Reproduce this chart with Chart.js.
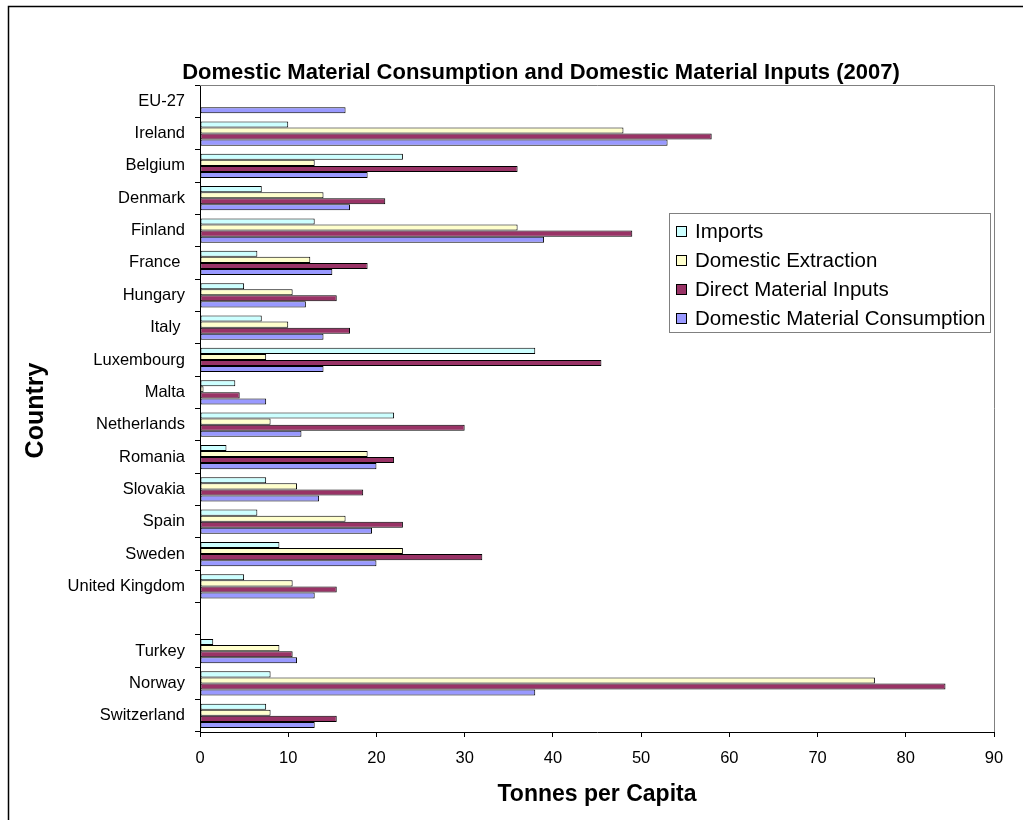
<!DOCTYPE html>
<html>
<head>
<meta charset="utf-8">
<title>Domestic Material Consumption and Domestic Material Inputs (2007)</title>
<script src="https://cdn.jsdelivr.net/npm/chart.js@4.4.1/dist/chart.umd.min.js"></script>
<style>
  html, body { margin: 0; padding: 0; background: #ffffff; }
  #wrap { width: 1023px; height: 820px; }
</style>
</head>
<body>
<div id="wrap"><canvas id="chart" width="1023" height="820"></canvas></div>
<script>
// Countries (the empty entry separates EU members from the non-EU group)
const countries = ['EU-27', 'Ireland', 'Belgium', 'Denmark', 'Finland', 'France ', 'Hungary', 'Italy ',
  'Luxembourg', 'Malta', 'Netherlands', 'Romania', 'Slovakia', 'Spain', 'Sweden', 'United Kingdom',
  '', 'Turkey', 'Norway', 'Switzerland'];

// Tonnes per capita, 2007
const imports            = [null, 10, 23, 7, 13, 6.5, 5, 7, 38, 4, 22, 3, 7.5, 6.5, 9, 5, null, 1.5, 8, 7.5];
const domesticExtraction = [null, 48, 13, 14, 36, 12.5, 10.5, 10, 7.5, 0.4, 8, 19, 11, 16.5, 23, 10.5, null, 9, 76.5, 8];
const directInputs       = [null, 58, 36, 21, 49, 19, 15.5, 17, 45.5, 4.5, 30, 22, 18.5, 23, 32, 15.5, null, 10.5, 84.5, 15.5];
const domesticConsumption= [16.5, 53, 19, 17, 39, 15, 12, 14, 14, 7.5, 11.5, 20, 13.5, 19.5, 20, 13, null, 11, 38, 13];

const seriesNames = ['Imports', 'Domestic Extraction', 'Direct Material Inputs', 'Domestic Material Consumption'];
const xTicks = [0, 10, 20, 30, 40, 50, 60, 70, 80, 90];

const FONT = "'Liberation Sans', Arial, Helvetica, sans-serif";
const colours = ['#ccffff', '#ffffcc', '#993366', '#9999ff'];

const seriesData = [imports, domesticExtraction, directInputs, domesticConsumption];
const datasets = seriesData.map((d, i) => ({
  label: seriesNames[i],
  data: d,
  backgroundColor: colours[i],
  borderColor: '#000000',
  borderWidth: 1,
  borderSkipped: false,
  categoryPercentage: 0.75,
  barPercentage: 1.0
}));

// Frame, titles and the boxed legend inside the plot
const decor = {
  id: 'decor',
  beforeDraw(chart) {
    const ctx = chart.ctx;
    ctx.save();
    ctx.fillStyle = '#ffffff';
    ctx.fillRect(0, 0, chart.width, chart.height);
    ctx.restore();
  },
  afterDraw(chart) {
    const { ctx, chartArea: a } = chart;
    ctx.save();

    // outer frame
    ctx.strokeStyle = '#000000';
    ctx.lineWidth = 1.5;
    ctx.beginPath();
    ctx.moveTo(8.5, chart.height);
    ctx.lineTo(8.5, 6.5);
    ctx.lineTo(chart.width, 6.5);
    ctx.stroke();

    // plot-area border (top and right)
    ctx.strokeStyle = '#808080';
    ctx.lineWidth = 1;
    ctx.beginPath();
    ctx.moveTo(a.left, a.top + 0.5);
    ctx.lineTo(a.right + 0.5, a.top + 0.5);
    ctx.lineTo(a.right + 0.5, a.bottom);
    ctx.stroke();

    // chart title
    ctx.fillStyle = '#000000';
    ctx.textAlign = 'center';
    ctx.textBaseline = 'middle';
    ctx.font = 'bold 22px ' + FONT;
    ctx.fillText('Domestic Material Consumption and Domestic Material Inputs (2007)', 541, 73);

    // axis titles
    ctx.font = 'bold 23px ' + FONT;
    ctx.fillText('Tonnes per Capita', (a.left + a.right) / 2, 795);
    ctx.save();
    ctx.translate(36, (a.top + a.bottom) / 2 + 2);
    ctx.rotate(-Math.PI / 2);
    ctx.font = 'bold 25px ' + FONT;
    ctx.fillText('Country', 0, 0);
    ctx.restore();

    // legend
    const lx = 669, ly = 213, lw = 321, lh = 119;
    ctx.fillStyle = '#ffffff';
    ctx.fillRect(lx, ly, lw, lh);
    ctx.strokeStyle = '#808080';
    ctx.lineWidth = 1;
    ctx.strokeRect(lx + 0.5, ly + 0.5, lw, lh);
    ctx.font = '20.5px ' + FONT;
    ctx.textAlign = 'left';
    ctx.textBaseline = 'middle';
    chart.data.datasets.forEach((ds, i) => {
      const cy = 231 + i * 29;
      ctx.fillStyle = ds.backgroundColor;
      ctx.fillRect(676, cy - 5, 11, 11);
      ctx.strokeStyle = '#000000';
      ctx.strokeRect(676.5, cy - 4.5, 10, 10);
      ctx.fillStyle = '#000000';
      ctx.fillText(ds.label, 695, cy + 1);
    });

    ctx.restore();
  }
};

new Chart(document.getElementById('chart'), {
  type: 'bar',
  data: { labels: countries, datasets: datasets },
  plugins: [decor],
  options: {
    indexAxis: 'y',
    responsive: false,
    animation: false,
    devicePixelRatio: 1,
    layout: { padding: { left: 0, top: 85, right: 29, bottom: 0 } },
    plugins: {
      legend: { display: false },
      title: { display: false },
      tooltip: { enabled: false }
    },
    scales: {
      x: {
        type: 'linear',
        min: 0,
        max: 90,
        afterFit(scale) { scale.height = 88; },
        afterBuildTicks(scale) { scale.ticks = xTicks.map(v => ({ value: v })); },
        grid: { display: true, drawOnChartArea: false, drawTicks: true, tickLength: 5, color: '#000000' },
        border: { display: true, color: '#000000', width: 1 },
        ticks: { color: '#000000', font: { family: FONT, size: 16.5 }, padding: 12, maxRotation: 0 }
      },
      y: {
        type: 'category',
        offset: true,
        afterFit(scale) { scale.width = 200; },
        grid: { display: true, drawOnChartArea: false, drawTicks: true, tickLength: 5, offset: true, color: '#000000' },
        border: { display: true, color: '#000000', width: 1 },
        ticks: { color: '#000000', font: { family: FONT, size: 16.5 }, padding: 10, autoSkip: false }
      }
    }
  }
});
</script>
</body>
</html>
